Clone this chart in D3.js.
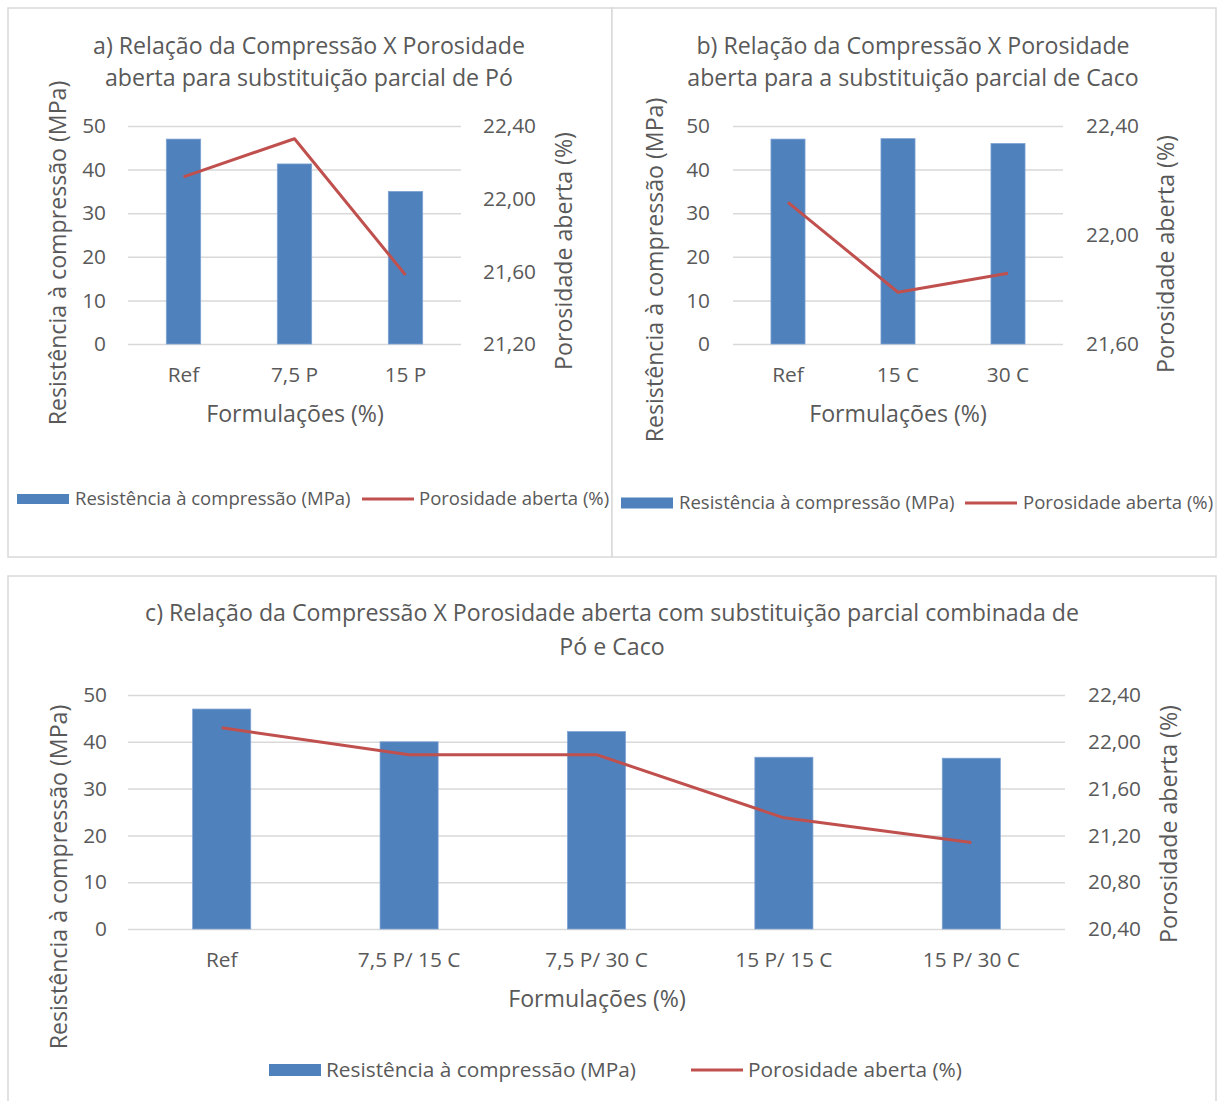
<!DOCTYPE html>
<html><head><meta charset="utf-8">
<script src="https://cdn.jsdelivr.net/npm/d3@7"></script>
<style>
body{margin:0;background:#fff}
svg{display:block}
text{font-family:"Open Sans",sans-serif;fill:#595959}
</style>
</head><body>
<svg id="chart" width="1224" height="1101"></svg>
<script>
// ---------- DATA ----------
const catsA = ["Ref", "7,5 P", "15 P"];
const compA = [47.0, 41.3, 35.0];
const porA  = [22.12, 22.33, 21.58];

const catsB = ["Ref", "15 C", "30 C"];
const compB = [47.0, 47.1, 46.0];
const porB  = [22.12, 21.79, 21.86];

const catsC = ["Ref", "7,5 P/ 15 C", "7,5 P/ 30 C", "15 P/ 15 C", "15 P/ 30 C"];
const compC = [47.0, 40.0, 42.2, 36.7, 36.5];
const porC  = [22.12, 21.89, 21.89, 21.35, 21.14];

const leftTicks   = [0, 10, 20, 30, 40, 50];
const rightTicksA = [21.2, 21.6, 22.0, 22.4];
const rightTicksB = [21.6, 22.0, 22.4];
const rightTicksC = [20.4, 20.8, 21.2, 21.6, 22.0, 22.4];

const titleA = ["a) Relação da Compressão X Porosidade", "aberta para substituição parcial de Pó"];
const titleB = ["b) Relação da Compressão X Porosidade", "aberta para a substituição parcial de Caco"];
const titleC = ["c) Relação da Compressão X Porosidade aberta com substituição parcial combinada de", "Pó e Caco"];

const xTitle = "Formulações (%)";
const yTitleL = "Resistência à compressão (MPa)";
const yTitleR = "Porosidade aberta (%)";
const seriesNames = ["Resistência à compressão (MPa)", "Porosidade aberta (%)"];

// ---------- STYLE ----------
const BAR = "#4f81bd", LINE = "#c0504d", GRID = "#d9d9d9", BORDER = "#d9d9d9";
const svg = d3.select("#chart");

// base font size: fit the first title line of panel a to its width in the reference (432px)
const probe = svg.append("text").attr("font-size", 20).text(titleA[0]);
const BASE = 20 * 432 / probe.node().getComputedTextLength();
probe.remove();
const FS_TITLE = BASE, FS_TICK = BASE * 0.9, FS_AXT = BASE;

const fmtR = d => d3.format(".2f")(d).replace(".", ",");

function drawPanel(p) {
  const g = svg.append("g");
  g.append("rect").attr("x", p.box[0]).attr("y", p.box[1]).attr("width", p.box[2]).attr("height", p.box[3])
    .attr("fill", "#fff").attr("stroke", BORDER).attr("stroke-width", 1.5);

  const x = d3.scaleBand().domain(p.cats).range([p.x0, p.x1]).paddingInner(0.69).paddingOuter(0.345);
  const yL = d3.scaleLinear().domain([0, 50]).range([p.yB, p.yT]);
  const yR = d3.scaleLinear().domain(d3.extent(p.rTicks)).range([p.yB, p.yT]);
  const W = p.x1 - p.x0;

  const grid = g.append("g").attr("transform", `translate(${p.x0},0)`)
    .call(d3.axisLeft(yL).tickValues(leftTicks).tickSize(-W).tickFormat(""));
  grid.select(".domain").remove();
  grid.selectAll("line").attr("stroke", GRID).attr("stroke-width", 1.5);

  const styleAxis = a => {
    a.select(".domain").remove();
    a.selectAll("text").attr("font-size", FS_TICK).attr("font-family", null).style("fill", "#595959");
  };

  const la = g.append("g").attr("transform", `translate(${p.x0},0)`)
    .call(d3.axisLeft(yL).tickValues(leftTicks).tickSize(0).tickPadding(p.padL));
  styleAxis(la);

  const ra = g.append("g").attr("transform", `translate(${p.x1},0)`)
    .call(d3.axisRight(yR).tickValues(p.rTicks).tickSize(0).tickPadding(p.padR).tickFormat(fmtR));
  styleAxis(ra);

  const ba = g.append("g").attr("transform", `translate(0,${p.yB})`)
    .call(d3.axisBottom(x).tickSize(0).tickPadding(23));
  styleAxis(ba);

  g.append("g").selectAll("rect").data(p.cats).join("rect")
    .attr("x", d => x(d)).attr("width", x.bandwidth())
    .attr("y", (d, i) => yL(p.comp[i])).attr("height", (d, i) => p.yB - yL(p.comp[i]))
    .attr("fill", BAR).attr("stroke", "#7fa3d3").attr("stroke-width", 0.75);

  const line = d3.line().x(d => x(d[0]) + x.bandwidth() / 2).y(d => yR(d[1]));
  g.append("path").datum(p.cats.map((c, i) => [c, p.por[i]]))
    .attr("d", line).attr("fill", "none").attr("stroke", LINE).attr("stroke-width", 3)
    .attr("stroke-linejoin", "round");

  p.title.forEach((t, i) => {
    g.append("text").attr("x", p.tx).attr("y", p.ty[i]).attr("dy", "0.35em")
      .attr("text-anchor", "middle").attr("font-size", FS_TITLE).text(t);
  });
  g.append("text").attr("x", p.xtx).attr("y", p.xty).attr("dy", "0.35em")
    .attr("text-anchor", "middle").attr("font-size", FS_AXT).text(xTitle);
  g.append("text").attr("transform", `translate(${p.ylx},${p.yly}) rotate(-90)`).attr("dy", "0.35em")
    .attr("text-anchor", "middle").attr("font-size", FS_AXT).text(yTitleL);
  g.append("text").attr("transform", `translate(${p.yrx},${p.yry}) rotate(-90)`).attr("dy", "0.35em")
    .attr("text-anchor", "middle").attr("font-size", FS_AXT).text(yTitleR);

  const L = p.leg, fsL = BASE * L.fs;
  g.append("rect").attr("x", L.rx).attr("y", L.y - L.rh / 2).attr("width", 52).attr("height", L.rh).attr("fill", BAR);
  g.append("text").attr("x", L.t1).attr("y", L.y).attr("dy", "0.35em").attr("font-size", fsL).text(seriesNames[0]);
  g.append("line").attr("x1", L.lx).attr("x2", L.lx + 52).attr("y1", L.y).attr("y2", L.y)
    .attr("stroke", LINE).attr("stroke-width", 3);
  g.append("text").attr("x", L.t2).attr("y", L.y).attr("dy", "0.35em").attr("font-size", fsL).text(seriesNames[1]);
}

drawPanel({
  box: [8, 8, 604, 549], cats: catsA, comp: compA, por: porA, rTicks: rightTicksA,
  x0: 128, x1: 461, yT: 126, yB: 344, padL: 22, padR: 22,
  title: titleA, tx: 309, ty: [46, 78], xtx: 295, xty: 414,
  ylx: 58, yly: 253, yrx: 564, yry: 251,
  leg: { rx: 17, y: 499, rh: 10, t1: 75, lx: 362, t2: 419, fs: 0.8 }
});
drawPanel({
  box: [612, 8, 604, 549], cats: catsB, comp: compB, por: porB, rTicks: rightTicksB,
  x0: 733, x1: 1063, yT: 126, yB: 344, padL: 23, padR: 23,
  title: titleB, tx: 913, ty: [46, 78], xtx: 898, xty: 414,
  ylx: 655, yly: 270, yrx: 1166, yry: 254,
  leg: { rx: 621, y: 503, rh: 11, t1: 679, lx: 965, t2: 1023, fs: 0.8 }
});
drawPanel({
  box: [8, 576, 1208, 540], cats: catsC, comp: compC, por: porC, rTicks: rightTicksC,
  x0: 128, x1: 1065, yT: 695, yB: 929, padL: 21, padR: 23,
  title: titleC, tx: 612, ty: [613, 647], xtx: 597, xty: 999,
  ylx: 59, yly: 877, yrx: 1169, yry: 824,
  leg: { rx: 269, y: 1070, rh: 12, t1: 326, lx: 691, t2: 748, fs: 0.9 }
});
</script>
</body></html>
